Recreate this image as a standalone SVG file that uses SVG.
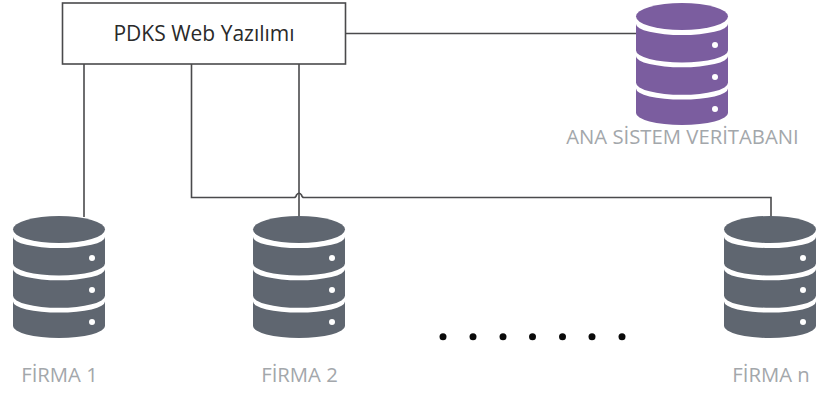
<svg xmlns="http://www.w3.org/2000/svg" width="816" height="396" viewBox="0 0 816 396">
<style>
.ln{fill:none;stroke:#4a4a4c;stroke-width:1.6}
.lb{font-family:"Open Sans",sans-serif;font-size:20.300px;fill:#a3a7ab}
.t{font-family:"Open Sans",sans-serif;font-size:21px;fill:#2a2a2a}
.dot{fill:#fff}
</style>
<defs>
<g id="db">
<ellipse cx="46" cy="16.500" rx="46" ry="13.500"/>
<path d="M0,24 A46,11 0 0 0 92,24 V50.500 A46,12 0 0 1 0,50.500 Z"/>
<path d="M0,56.300 A46,11 0 0 0 92,56.300 V82.800 A46,12 0 0 1 0,82.800 Z"/>
<path d="M0,88.600 A46,11 0 0 0 92,88.600 V113 A46,12 0 0 1 0,113 Z"/>
<circle class="dot" cx="79" cy="45" r="3"/>
<circle class="dot" cx="79" cy="77" r="3"/>
<circle class="dot" cx="79" cy="109" r="3"/>
</g>
</defs>
<g id="connectors">
<path class="ln" d="M84,64 V217"/>
<path class="ln" d="M191.500,64 V197.500 H294 Q296,197.500 296.500,195 Q299,191.500 301.500,195 Q302,197.500 304,197.500 H771 V217"/>
<path class="ln" d="M299,64 V217"/>
<path class="ln" d="M345.500,33.500 H637"/>
</g>
<g id="web">
<rect x="62.500" y="3" width="283" height="61" fill="#fff" stroke="#4a4a4c" stroke-width="1.6"/>
<text class="t" x="204" y="41" text-anchor="middle">PDKS Web Yazılımı</text>
</g>
<g id="ana">
<use href="#db" x="636" y="0" fill="#7b5d9f"/>
<text class="lb" x="682.500" y="144" text-anchor="middle">ANA SİSTEM VERİTABANI</text>
</g>
<g id="firma1">
<use href="#db" x="13" y="213" fill="#5f6670"/>
<text class="lb" x="59.500" y="382" text-anchor="middle">FİRMA 1</text>
</g>
<g id="firma2">
<use href="#db" x="253" y="213" fill="#5f6670"/>
<text class="lb" x="299.500" y="382" text-anchor="middle">FİRMA 2</text>
</g>
<g id="firman">
<use href="#db" x="724" y="213" fill="#5f6670"/>
<text class="lb" x="771" y="382" text-anchor="middle">FİRMA n</text>
</g>
<g id="dots" fill="#0a0a0a">
<circle cx="443" cy="336.700" r="3.500"/>
<circle cx="473" cy="336.700" r="3.500"/>
<circle cx="503" cy="336.700" r="3.500"/>
<circle cx="532.500" cy="336.700" r="3.500"/>
<circle cx="562.500" cy="336.700" r="3.500"/>
<circle cx="592" cy="336.700" r="3.500"/>
<circle cx="622" cy="336.700" r="3.500"/>
</g>
</svg>
